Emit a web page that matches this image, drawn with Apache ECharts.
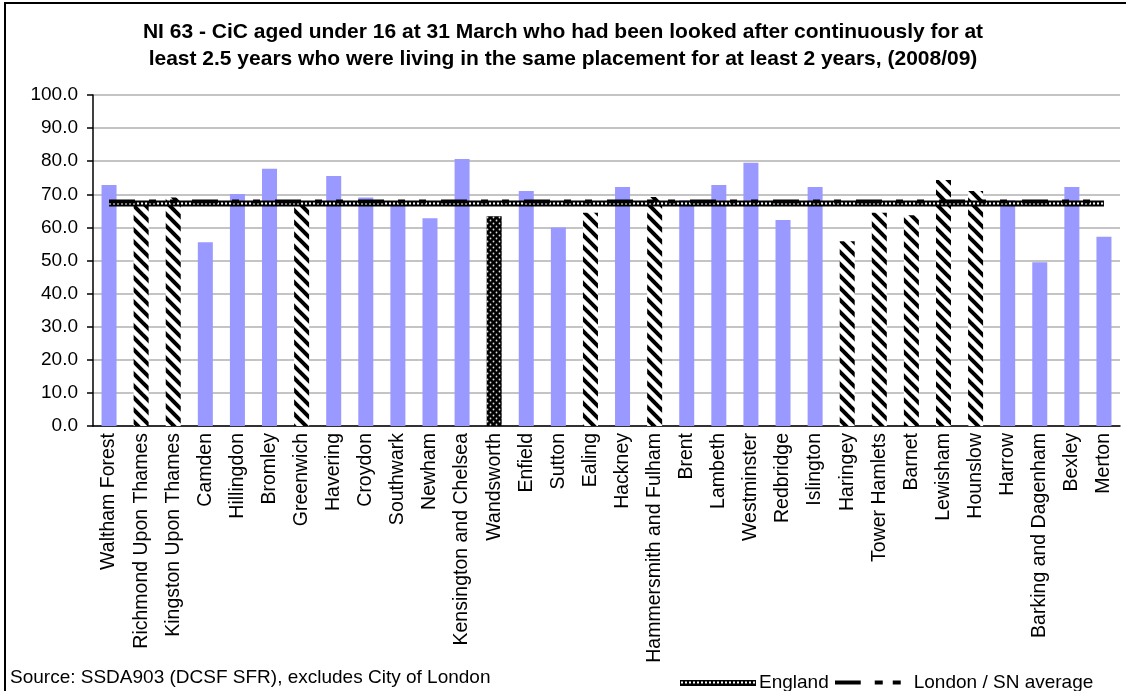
<!DOCTYPE html>
<html>
<head>
<meta charset="utf-8">
<script src="https://cdn.jsdelivr.net/npm/echarts@6/dist/echarts.min.js"></script>
<style>
  html, body { margin: 0; padding: 0; background: #fff; }
  #main { width: 1126px; height: 691px; }
</style>
</head>
<body>
<div id="main"></div>
<script>
// data
var categories = ['Waltham Forest', 'Richmond Upon Thames', 'Kingston Upon Thames', 'Camden', 'Hillingdon',
  'Bromley', 'Greenwich', 'Havering', 'Croydon', 'Southwark', 'Newham', 'Kensington and Chelsea',
  'Wandsworth', 'Enfield', 'Sutton', 'Ealing', 'Hackney', 'Hammersmith and Fulham', 'Brent', 'Lambeth',
  'Westminster', 'Redbridge', 'Islington', 'Haringey', 'Tower Hamlets', 'Barnet', 'Lewisham', 'Hounslow',
  'Harrow', 'Barking and Dagenham', 'Bexley', 'Merton'];
var values = [72.8, 67.5, 69.0, 55.5, 70.1, 77.7, 67.5, 75.5, 69.0, 67.5, 62.8, 80.7,
  63.4, 71.0, 60.0, 64.4, 72.2, 69.2, 68.2, 72.8, 79.5, 62.2, 72.2, 55.8,
  64.4, 63.7, 74.3, 71.0, 68.2, 49.5, 72.2, 57.2];
// la = other London borough, sn = statistical neighbour, self = Wandsworth
var groups = ['la', 'sn', 'sn', 'la', 'la', 'la', 'sn', 'la', 'la', 'la', 'la', 'la',
  'self', 'la', 'la', 'sn', 'la', 'sn', 'la', 'la', 'la', 'la', 'la', 'sn',
  'sn', 'sn', 'sn', 'sn', 'la', 'la', 'la', 'la'];
var englandAvg = 67.2;
var londonAvg = 67.8;
var yTicks = [0, 10, 20, 30, 40, 50, 60, 70, 80, 90, 100];

// fill patterns
function hatch() {
  var c = document.createElement('canvas');
  c.width = 12; c.height = 12;
  var g = c.getContext('2d');
  g.fillStyle = '#fff'; g.fillRect(0, 0, 12, 12);
  g.strokeStyle = '#000'; g.lineWidth = 4;
  for (var k = -1; k <= 1; k++) {
    g.beginPath(); g.moveTo(-2, k * 12 - 2); g.lineTo(14, k * 12 + 14); g.stroke();
  }
  return c;
}
function dots() {
  var c = document.createElement('canvas');
  c.width = 6; c.height = 6;
  var g = c.getContext('2d');
  g.fillStyle = '#000'; g.fillRect(0, 0, 6, 6);
  g.fillStyle = '#ddd';
  g.beginPath(); g.arc(1.5, 1.5, 0.9, 0, Math.PI * 2); g.fill();
  g.beginPath(); g.arc(4.5, 4.5, 0.9, 0, Math.PI * 2); g.fill();
  return c;
}
// legend samples
function englandIcon() {
  var c = document.createElement('canvas');
  c.width = 76; c.height = 6;
  var g = c.getContext('2d');
  g.fillStyle = '#000'; g.fillRect(0, 0, 76, 6);
  g.fillStyle = '#fff';
  for (var x = 1; x < 75; x += 4) g.fillRect(x, 2, 2, 2);
  return c.toDataURL();
}
function londonIcon() {
  var c = document.createElement('canvas');
  c.width = 76; c.height = 6;
  var g = c.getContext('2d');
  g.fillStyle = '#000';
  g.fillRect(0, 1, 26, 4);
  g.fillRect(40, 1, 8, 4);
  g.fillRect(58, 1, 8, 4);
  return c.toDataURL();
}

var hatchFill = { image: hatch(), repeat: 'repeat' };
var dotFill = { image: dots(), repeat: 'repeat' };

var barData = values.map(function (v, i) {
  var col = groups[i] === 'sn' ? hatchFill : (groups[i] === 'self' ? dotFill : '#9999FF');
  return { value: v, itemStyle: { color: col } };
});
var englandLine = categories.map(function () { return englandAvg; });
var londonLine = categories.map(function () { return londonAvg; });

var font = 'Liberation Sans, Arial, sans-serif';
var myChart = echarts.init(document.getElementById('main'));
myChart.setOption({
  animation: false,
  textStyle: { fontFamily: font },
  title: {
    text: 'NI 63 - CiC aged under 16 at 31 March who had been looked after continuously for at\nleast 2.5 years who were living in the same placement for at least 2 years, (2008/09)',
    left: 'center',
    top: 14,
    textStyle: { fontFamily: font, fontSize: 21, fontWeight: 'bold', color: '#000', lineHeight: 27 }
  },
  legend: {
    left: 675,
    top: 668,
    itemGap: 6,
    itemWidth: 76,
    itemHeight: 6,
    textStyle: { fontFamily: font, fontSize: 19, color: '#000', padding: [0, 0, 0, -2] },
    data: [
      { name: 'England', icon: 'image://' + englandIcon() },
      { name: 'London / SN average', icon: 'image://' + londonIcon() }
    ]
  },
  grid: { left: 93, top: 95, right: 6, bottom: 265, outerBoundsMode: 'none' },
  xAxis: {
    type: 'category',
    data: categories,
    axisLine: { lineStyle: { color: '#000', width: 1.5 } },
    axisTick: { length: 6, lineStyle: { color: '#000', width: 1.5 } },
    axisLabel: { rotate: 90, interval: 0, margin: 7, fontSize: 19.5, color: '#000', fontFamily: font }
  },
  yAxis: {
    type: 'value',
    min: yTicks[0],
    max: yTicks[yTicks.length - 1],
    interval: 10,
    axisLine: { show: true, lineStyle: { color: '#000', width: 1.5 } },
    axisTick: { show: true, length: 6, lineStyle: { color: '#000', width: 1.5 } },
    axisLabel: { margin: 15, fontSize: 19, color: '#000', fontFamily: font,
      formatter: function (v) { return v.toFixed(1); } },
    splitLine: { lineStyle: { color: '#C4C4C4', width: 2 } }
  },
  series: [
    {
      name: 'Boroughs',
      type: 'bar',
      barWidth: 15,
      data: barData
    },
    {
      name: 'England',
      type: 'line',
      symbol: 'none',
      data: englandLine,
      lineStyle: { color: '#000', width: 6 },
      z: 3
    },
    {
      name: 'England dots',
      type: 'line',
      symbol: 'none',
      data: englandLine,
      lineStyle: { color: '#fff', width: 2, type: [2, 2] },
      z: 4
    },
    {
      name: 'London / SN average',
      type: 'line',
      symbol: 'none',
      data: londonLine,
      lineStyle: { color: '#000', width: 4, type: [26, 14, 7, 14, 7, 15] },
      z: 5
    }
  ],
  graphic: [
    {
      type: 'rect',
      shape: { x: 5, y: 3, width: 1125, height: 700 },
      style: { fill: null, stroke: '#000', lineWidth: 2 },
      silent: true
    },
    {
      type: 'text',
      left: 10,
      top: 668,
      style: { text: 'Source: SSDA903 (DCSF SFR), excludes City of London', font: '19px ' + font, fill: '#000' }
    }
  ]
});
</script>
</body>
</html>
